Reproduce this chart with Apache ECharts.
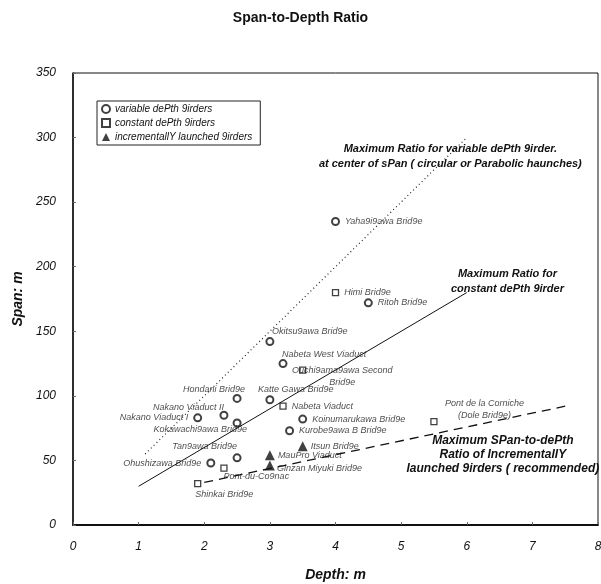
<!DOCTYPE html>
<html><head><meta charset="utf-8">
<script src="https://cdn.jsdelivr.net/npm/echarts@6/dist/echarts.min.js"></script>
<style>html,body{margin:0;padding:0;background:#fff}#c{width:601px;height:584px}</style>
</head><body><div id="c"></div>
<script>
// ---- data ----
const varNames = ['Yaha9i9awa Brid9e','Ritoh Brid9e','Okitsu9awa Brid9e','Nabeta West Viaduct','Hondani Brid9e','Katte Gawa Brid9e','Nakano Viaduct II','Nakano Viaduct I','Kokawachi9awa Brid9e','Koinumarukawa Brid9e','Kurobe9awa B Brid9e','Tan9awa Brid9e','Ohushizawa Brid9e'];
const varDepth = [4.0, 4.5, 3.0, 3.2, 2.5, 3.0, 2.3, 1.9, 2.5, 3.5, 3.3, 2.5, 2.1];
const varSpan  = [235, 172, 142, 125, 98, 97, 85, 83, 79, 82, 73, 52, 48];

const conNames = ['Himi Brid9e','Ouchi9ama9awa Second\nBrid9e','Nabeta Viaduct','Pont-du-Co9nac','Shinkai Brid9e','Pont de la Corniche\n(Dole Brid9e)'];
const conDepth = [4.0, 3.5, 3.2, 2.3, 1.9, 5.5];
const conSpan  = [180, 120, 92, 44, 32, 80];

const incNames = ['Itsun Brid9e','MauPro Viaduct','Ginzan Miyuki Brid9e'];
const incDepth = [3.5, 3.0, 3.0];
const incSpan  = [61, 54, 46];

// guideline end points [depth, span]
const lineVariable = [[1.1, 55], [6.0, 300]];
const lineConstant = [[1.0, 30], [6.0, 180]];
const lineIncremental = [[2.0, 33], [7.5, 92]];

const legendNames = ['variable dePth 9irders','constant dePth 9irders','incrementallY launched 9irders'];

const xTicks = {min:0, max:8, interval:1};
const yTicks = {min:0, max:350, interval:50};

// ---- label layout (position, dx, dy, align) ----
const labelLayout = {
 'Yaha9i9awa Brid9e':['right',0,0],
 'Ritoh Brid9e':['right',0,0],
 'Okitsu9awa Brid9e':['right',-7.5,-10],
 'Nabeta West Viaduct':['right',-10.5,-9],
 'Hondani Brid9e':['left',17.5,-9],
 'Katte Gawa Brid9e':['right',-21.5,-10],
 'Nakano Viaduct II':['left',9.5,-8],
 'Nakano Viaduct I':['left',0,0],
 'Kokawachi9awa Brid9e':['left',19.5,7],
 'Koinumarukawa Brid9e':['right',0,0],
 'Kurobe9awa B Brid9e':['right',0,0],
 'Tan9awa Brid9e':['left',9.5,-11],
 'Ohushizawa Brid9e':['left',0,0],
 'Himi Brid9e':['right',0,0],
 'Ouchi9ama9awa Second\nBrid9e':['right',31,6,'center'],
 'Nabeta Viaduct':['right',0,0],
 'Pont-du-Co9nac':['right',-9,8],
 'Shinkai Brid9e':['right',-11,11],
 'Pont de la Corniche\n(Dole Brid9e)':['right',42,-12,'center'],
 'Itsun Brid9e':['right',-2,0],
 'MauPro Viaduct':['right',-2,0],
 'Ginzan Miyuki Brid9e':['right',-3,3]
};

function build(names, xs, ys){
  return names.map((n,i)=>{
    const l = labelLayout[n] || ['right',0,0];
    const lab = {position:l[0], offset:[l[1],l[2]]};
    if (l[3]) lab.align = l[3];
    return {name:n, value:[xs[i], ys[i]], label:lab};
  });
}

const annotations = [
  {x:5.75, y:285.5, text:'Maximum Ratio for variable dePth 9irder.\nat center of sPan ( circular or Parabolic haunches)', size:11, lh:15},
  {x:6.62, y:188.5, text:'Maximum Ratio for\nconstant dePth 9irder', size:11, lh:15},
  {x:6.55, y:54.5, text:'Maximum SPan-to-dePth\nRatio of IncrementallY\nlaunched 9irders ( recommended)', size:12, lh:14}
];

const FONT = '"Liberation Sans", Arial, sans-serif';
const labelStyle = {show:true, formatter:'{b}', fontSize:9, fontStyle:'italic', fontFamily:FONT, color:'#1a1a1a', distance:5, lineHeight:12};

const chart = echarts.init(document.getElementById('c'), null, {renderer:'canvas'});
chart.setOption({
  animation:false,
  backgroundColor:'#fff',
  title:{text:'Span-to-Depth Ratio', left:'center', top:6, textStyle:{fontSize:14, fontWeight:'bold', fontFamily:FONT, color:'#111'}},
  grid:{left:73, right:3, top:73, bottom:59, show:true, borderColor:'#111', borderWidth:1, outerBoundsMode:'none', containLabel:false},
  legend:{
    data:legendNames, orient:'vertical', left:97, top:101, itemWidth:8, itemHeight:8, itemGap:4,
    padding:[3,8,3,4], borderColor:'#222', borderWidth:1, backgroundColor:'#fff',
    textStyle:{fontSize:10, fontStyle:'italic', fontFamily:FONT, color:'#111'}
  },
  xAxis:{type:'value', min:xTicks.min, max:xTicks.max, interval:xTicks.interval,
    name:'Depth: m', nameLocation:'middle', nameGap:43,
    nameTextStyle:{fontSize:14, fontWeight:'bold', fontStyle:'italic', fontFamily:FONT, color:'#111'},
    axisLine:{lineStyle:{color:'#111', width:2}}, axisTick:{inside:true, length:3, lineStyle:{color:'#666'}},
    splitLine:{show:false},
    axisLabel:{fontSize:12, fontStyle:'italic', fontFamily:FONT, color:'#111', margin:16}},
  yAxis:{type:'value', min:yTicks.min, max:yTicks.max, interval:yTicks.interval,
    name:'Span: m', nameLocation:'middle', nameGap:45,
    nameTextStyle:{fontSize:14, fontWeight:'bold', fontStyle:'italic', fontFamily:FONT, color:'#111'},
    axisLine:{show:true, lineStyle:{color:'#111', width:1.5}}, axisTick:{show:true, inside:true, length:3, lineStyle:{color:'#666'}},
    splitLine:{show:false},
    axisLabel:{fontSize:12, fontStyle:'italic', fontFamily:FONT, color:'#111', margin:17}},
  series:[
    {name:legendNames[0], type:'scatter', symbol:'circle', symbolSize:7,
     itemStyle:{color:'#fff', borderColor:'#111', borderWidth:2}, label:labelStyle, z:5,
     data:build(varNames, varDepth, varSpan)},
    {name:legendNames[1], type:'scatter', symbol:'rect', symbolSize:6,
     itemStyle:{color:'#fff', borderColor:'#111', borderWidth:1.3}, label:labelStyle, z:5,
     data:build(conNames, conDepth, conSpan)},
    {name:legendNames[2], type:'scatter', symbol:'triangle', symbolSize:10,
     itemStyle:{color:'#111'}, label:labelStyle, z:5,
     data:build(incNames, incDepth, incSpan)},
    {type:'line', data:lineVariable, symbol:'none', silent:true,
     lineStyle:{color:'#222', width:1.2, type:[1,3]}},
    {type:'line', data:lineConstant, symbol:'none', silent:true,
     lineStyle:{color:'#111', width:1}},
    {type:'line', data:lineIncremental, symbol:'none', silent:true,
     lineStyle:{color:'#111', width:1.3, type:[9,6]}}
  ]
});

const graphics = annotations.map(a=>{
  const p = chart.convertToPixel({gridIndex:0}, [a.x, a.y]);
  return {type:'text', x:p[0], y:p[1], z:10,
    style:{text:a.text, fontSize:a.size, fontWeight:'bold', fontStyle:'italic', fontFamily:FONT,
      fill:'#111', align:'center', verticalAlign:'middle', lineHeight:a.lh}};
});
chart.setOption({graphic:graphics});
</script>
</body></html>
